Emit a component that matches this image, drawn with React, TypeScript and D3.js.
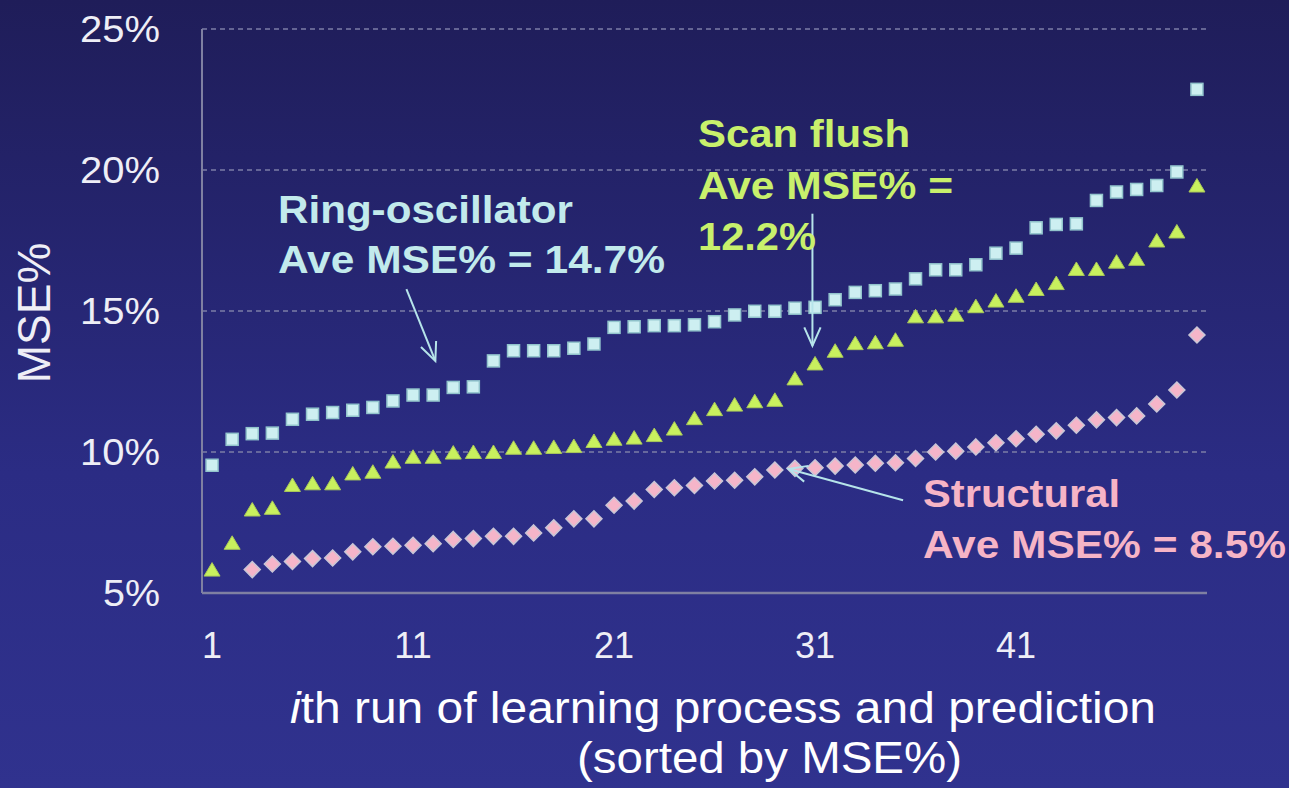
import React, { useRef, useEffect } from "react";
import * as d3 from "d3";

// values, one per run (sorted by MSE%)
const ringRuns = d3.range(1, 51);
const ringMse = [
  9.53, 10.45, 10.65, 10.67, 11.16, 11.34, 11.4, 11.48, 11.58, 11.81,
  12.02, 12.02, 12.29, 12.31, 13.23, 13.59, 13.59, 13.59, 13.68, 13.83,
  14.42, 14.44, 14.48, 14.48, 14.51, 14.62, 14.86, 14.99, 14.99, 15.1,
  15.13, 15.4, 15.66, 15.72, 15.78, 16.14, 16.46, 16.46, 16.64, 17.05,
  17.23, 17.95, 18.07, 18.09, 18.92, 19.22, 19.31, 19.45, 19.93, 22.86,
];
const scanRuns = d3.range(1, 51);
const scanMse = [
  5.83, 6.78, 7.96, 8.02, 8.83, 8.89, 8.89, 9.24, 9.3, 9.66,
  9.83, 9.83, 9.98, 10.0, 10.0, 10.15, 10.15, 10.18, 10.21, 10.39,
  10.47, 10.51, 10.6, 10.83, 11.2, 11.52, 11.68, 11.8, 11.85, 12.61,
  13.14, 13.59, 13.86, 13.89, 13.98, 14.81, 14.81, 14.87, 15.17, 15.37,
  15.54, 15.78, 15.99, 16.49, 16.49, 16.75, 16.85, 17.5, 17.82, 19.45,
];
const structRuns = d3.range(3, 51);
const structMse = [
  5.83, 6.03, 6.12, 6.22, 6.24, 6.46, 6.64, 6.66, 6.69, 6.75,
  6.9, 6.93, 7.01, 7.01, 7.13, 7.31, 7.63, 7.63, 8.11, 8.26,
  8.67, 8.73, 8.81, 8.97, 9.0, 9.12, 9.36, 9.42, 9.44, 9.5,
  9.54, 9.6, 9.62, 9.77, 10.0, 10.03, 10.18, 10.33, 10.47, 10.63,
  10.75, 10.95, 11.14, 11.22, 11.28, 11.7, 12.2, 14.15,
];

const yTicks = [5, 10, 15, 20, 25];
const yTickLabels = ["5%", "10%", "15%", "20%", "25%"];
const xTicks = [1, 11, 21, 31, 41];

// annotation arrows in data units: [run, mse] -> [run, mse]
const arrows = [
  { from: [10.67, 15.78], to: [12.11, 13.23] },
  { from: [30.87, 18.45], to: [30.87, 13.77] },
  { from: [35.38, 8.29], to: [29.69, 9.4] },
];

const W = 1289;
const H = 788;

const App = () => {
  const ref = useRef(null);

  useEffect(() => {
    if (!ref.current) return;
    const svg = d3.select(ref.current);
    svg.selectAll("*").remove();

    const defs = svg.append("defs");
    const grad = defs
      .append("linearGradient")
      .attr("id", "bg")
      .attr("x1", 0).attr("y1", 0).attr("x2", 0).attr("y2", 1);
    grad.append("stop").attr("offset", "0%").attr("stop-color", "#1f1d59");
    grad.append("stop").attr("offset", "60%").attr("stop-color", "#2b2c84");
    grad.append("stop").attr("offset", "100%").attr("stop-color", "#30328e");

    svg.append("rect").attr("width", W).attr("height", H).attr("fill", "url(#bg)");

    const x = d3.scaleLinear().domain([0.5, 50.5]).range([202, 1207]);
    const y = d3.scaleLinear().domain([5, 25]).range([593, 29]);

    // grid
    svg
      .append("g")
      .selectAll("line")
      .data(yTicks.slice(1))
      .join("line")
      .attr("x1", x(0.5))
      .attr("x2", x(50.5))
      .attr("y1", (d) => y(d))
      .attr("y2", (d) => y(d))
      .attr("stroke", "#7c7ea6")
      .attr("stroke-width", 1.5)
      .attr("stroke-dasharray", "5,4");

    // axes lines
    svg
      .append("line")
      .attr("x1", x(0.5)).attr("x2", x(0.5))
      .attr("y1", y(25)).attr("y2", y(5))
      .attr("stroke", "#7f80a2").attr("stroke-width", 2);
    svg
      .append("line")
      .attr("x1", x(0.5)).attr("x2", x(50.5))
      .attr("y1", y(5)).attr("y2", y(5))
      .attr("stroke", "#7f80a2").attr("stroke-width", 2.5);

    const font = "'Liberation Sans', Arial, sans-serif";

    // y tick labels
    svg
      .append("g")
      .selectAll("text")
      .data(yTicks)
      .join("text")
      .attr("x", 160)
      .attr("y", (d) => y(d))
      .attr("dy", "0.36em")
      .attr("text-anchor", "end")
      .attr("font-family", font)
      .attr("font-size", 37)
      .attr("fill", "#eeeef6")
      .attr("textLength", (d, i) => (yTickLabels[i].length === 3 ? 80 : 57))
      .attr("lengthAdjust", "spacingAndGlyphs")
      .text((d, i) => yTickLabels[i]);

    // x tick labels
    svg
      .append("g")
      .selectAll("text")
      .data(xTicks)
      .join("text")
      .attr("x", (d) => x(d))
      .attr("y", 658)
      .attr("text-anchor", "middle")
      .attr("font-family", font)
      .attr("font-size", 36)
      .attr("fill", "#eeeef6")
      .text((d) => d);

    // y title
    svg
      .append("text")
      .attr("transform", "translate(50,313) rotate(-90)")
      .attr("text-anchor", "middle")
      .attr("font-family", font)
      .attr("font-size", 46)
      .attr("fill", "#eeeef6")
      .text("MSE%");

    // x title
    const t1 = svg
      .append("text")
      .attr("x", 290)
      .attr("y", 723)
      .attr("font-family", font)
      .attr("font-size", 45)
      .attr("fill", "#ffffff")
      .attr("textLength", 866)
      .attr("lengthAdjust", "spacingAndGlyphs");
    t1.append("tspan").attr("font-style", "italic").text("i");
    t1.append("tspan").text("th run of learning process and prediction");
    svg
      .append("text")
      .attr("x", 577)
      .attr("y", 773)
      .attr("font-family", font)
      .attr("font-size", 45)
      .attr("fill", "#ffffff")
      .attr("textLength", 385)
      .attr("lengthAdjust", "spacingAndGlyphs")
      .text("(sorted by MSE%)");

    // markers
    const ringData = ringRuns.map((r, i) => ({ r, v: ringMse[i] }));
    const scanData = scanRuns.map((r, i) => ({ r, v: scanMse[i] }));
    const structData = structRuns.map((r, i) => ({ r, v: structMse[i] }));

    svg
      .append("g")
      .selectAll("path")
      .data(structData)
      .join("path")
      .attr("transform", (d) => `translate(${x(d.r)},${y(d.v)})`)
      .attr("d", "M0,-8L8,0L0,8L-8,0Z")
      .attr("fill", "#f5b5c9")
      .attr("stroke", "#c9c6d6")
      .attr("stroke-width", 1.5);

    svg
      .append("g")
      .selectAll("path")
      .data(scanData)
      .join("path")
      .attr("transform", (d) => `translate(${x(d.r)},${y(d.v)})`)
      .attr("d", "M0,-7L8,6.5L-8,6.5Z")
      .attr("fill", "#c8f05e")
      .attr("stroke", "#a9c85a")
      .attr("stroke-width", 1);

    svg
      .append("g")
      .selectAll("rect")
      .data(ringData)
      .join("rect")
      .attr("x", (d) => x(d.r) - 6)
      .attr("y", (d) => y(d.v) - 6)
      .attr("width", 12)
      .attr("height", 12)
      .attr("fill", "#cdeff1")
      .attr("stroke", "#92c4cc")
      .attr("stroke-width", 1.5);

    // arrows
    const arrowG = svg.append("g").attr("stroke", "#b6e4ea").attr("stroke-width", 2).attr("fill", "none");
    arrows.forEach((a) => {
      const x1 = x(a.from[0]);
      const y1 = y(a.from[1]);
      const x2 = x(a.to[0]);
      const y2 = y(a.to[1]);
      const ang = Math.atan2(y2 - y1, x2 - x1);
      const len = 20;
      const spread = 0.42;
      arrowG.append("line").attr("x1", x1).attr("y1", y1).attr("x2", x2).attr("y2", y2);
      arrowG
        .append("path")
        .attr(
          "d",
          `M${x2 - len * Math.cos(ang - spread)},${y2 - len * Math.sin(ang - spread)}L${x2},${y2}L${x2 - len * Math.cos(ang + spread)},${y2 - len * Math.sin(ang + spread)}`
        );
    });

    // annotation labels
    const labels = [
      { x: 278, y: 223, len: 295, text: "Ring-oscillator", color: "#c2eaec" },
      { x: 278, y: 273, len: 387, text: "Ave MSE% = 14.7%", color: "#c2eaec" },
      { x: 698, y: 147, len: 212, text: "Scan flush", color: "#c8f06c" },
      { x: 698, y: 199, len: 255, text: "Ave MSE% =", color: "#c8f06c" },
      { x: 698, y: 250, len: 118, text: "12.2%", color: "#c8f06c" },
      { x: 923, y: 507, len: 197, text: "Structural", color: "#f6b4c6" },
      { x: 923, y: 558, len: 363, text: "Ave MSE% = 8.5%", color: "#f6b4c6" },
    ];
    svg
      .append("g")
      .selectAll("text")
      .data(labels)
      .join("text")
      .attr("x", (d) => d.x)
      .attr("y", (d) => d.y)
      .attr("font-family", font)
      .attr("font-weight", "bold")
      .attr("font-size", 38)
      .attr("fill", (d) => d.color)
      .attr("textLength", (d) => d.len)
      .attr("lengthAdjust", "spacingAndGlyphs")
      .text((d) => d.text);
  }, []);

  return (
    <svg
      ref={ref}
      width={W}
      height={H}
      style={{ position: "absolute", left: 0, top: 0, display: "block" }}
    />
  );
};

export default App;
